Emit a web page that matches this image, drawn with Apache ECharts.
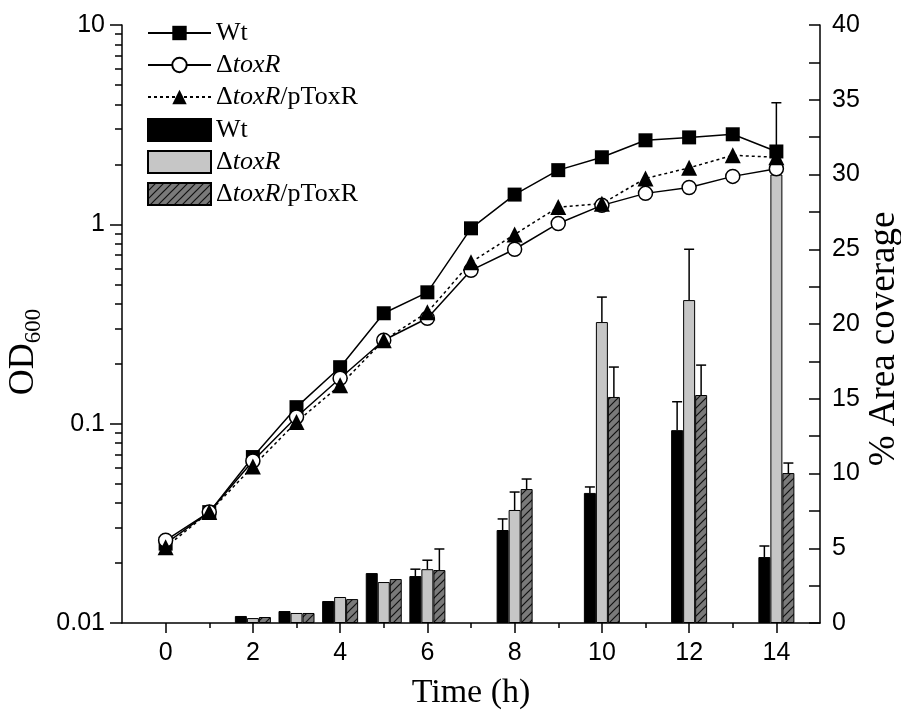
<!DOCTYPE html>
<html>
<head>
<meta charset="utf-8">
<script src="https://cdn.jsdelivr.net/npm/echarts@6/dist/echarts.min.js"></script>
<style>
  html, body { margin: 0; padding: 0; background: #fff; }
  #chart { width: 901px; height: 715px; }
</style>
</head>
<body>
<div id="chart"></div>
<script>
// growth curves, OD600 (log axis), one reading per hour
const hours = [0, 1, 2, 3, 4, 5, 6, 7, 8, 9, 10, 11, 12, 13, 14]
const odWt = [0.025, 0.036, 0.068, 0.121, 0.192, 0.358, 0.456, 0.955, 1.41, 1.87, 2.17, 2.64, 2.73, 2.83, 2.32]
const odToxR = [0.026, 0.036, 0.065, 0.108, 0.169, 0.262, 0.338, 0.588, 0.75, 1.01, 1.245, 1.43, 1.53, 1.74, 1.90]
const odComp = [0.024, 0.036, 0.061, 0.102, 0.156, 0.262, 0.362, 0.645, 0.89, 1.22, 1.27, 1.70, 1.92, 2.22, 2.17]

// biofilm area coverage (%), right axis
const barHours = [2, 3, 4, 5, 6, 8, 10, 12, 14]
const areaWt = [0.47, 0.8, 1.47, 3.34, 3.14, 6.22, 8.70, 12.9, 4.41]
const areaWtErr = [0, 0, 0, 0, 0.46, 0.74, 0.4, 1.9, 0.74]
const areaToxR = [0.33, 0.67, 1.74, 2.74, 3.6, 7.56, 20.13, 21.6, 30.0]
const areaToxRErr = [0, 0, 0, 0, 0.6, 1.2, 1.67, 3.4, 4.8]
const areaComp = [0.4, 0.67, 1.6, 2.94, 3.54, 8.96, 15.12, 15.25, 10.03]
const areaCompErr = [0, 0, 0, 0, 1.41, 0.67, 2.0, 2.0, 0.67]

// axis ticks / labels
const timeCats = ['-1', '0', '1', '2', '3', '4', '5', '6', '7', '8', '9', '10', '11', '12', '13', '14', '15']
const timeLabels = [0, 2, 4, 6, 8, 10, 12, 14]
const timeMinor = [1, 3, 5, 7, 9, 11, 13]
const odMinorTicks = [0.02, 0.03, 0.04, 0.05, 0.06, 0.07, 0.08, 0.09,
  0.2, 0.3, 0.4, 0.5, 0.6, 0.7, 0.8, 0.9, 2, 3, 4, 5, 6, 7, 8, 9]

const sansFont = '"Liberation Sans", Arial, sans-serif'
const serifFont = '"Liberation Serif", "Times New Roman", serif'
const BAR_W = 12

function hatchPattern() {
  const c = document.createElement('canvas')
  c.width = 8
  c.height = 8
  const ctx = c.getContext('2d')
  ctx.fillStyle = '#7a7a7a'
  ctx.fillRect(0, 0, 8, 8)
  ctx.strokeStyle = '#111'
  ctx.lineWidth = 1.2
  ctx.beginPath()
  ctx.moveTo(-1, 9); ctx.lineTo(9, -1)
  ctx.moveTo(-1, 1); ctx.lineTo(1, -1)
  ctx.moveTo(7, 9); ctx.lineTo(9, 7)
  ctx.stroke()
  return c
}

const pairs = (xs, ys) => xs.map((x, i) => [x, ys[i]])
const catPairs = (ys) => barHours.map((h, i) => [String(h), ys[i]])
const errRows = (ys, es) => barHours
  .map((h, i) => [String(h), ys[i], ys[i] + es[i], es[i]])
  .filter(r => r[3] > 0)

function errorRenderer(offset) {
  return (params, api) => {
    const idx = api.value(0)
    const base = api.coord([idx, api.value(1)])
    const top = api.coord([idx, api.value(2)])
    const x = base[0] + offset
    const style = { stroke: '#000', lineWidth: 1.5 }
    return {
      type: 'group',
      children: [
        { type: 'line', shape: { x1: x, y1: base[1], x2: x, y2: top[1] }, style },
        { type: 'line', shape: { x1: x - 5, y1: top[1], x2: x + 5, y2: top[1] }, style }
      ]
    }
  }
}

function legendText(name) {
  const n = name.trim()
  if (n === 'Wt') return '{n|Wt}'
  if (n === 'ΔtoxR') return '{n|Δ}{i|toxR}'
  return '{n|Δ}{i|toxR}{n|/pToxR}'
}
const legendRich = {
  n: { fontFamily: serifFont, fontSize: 26, color: '#000', lineHeight: 26 },
  i: { fontFamily: serifFont, fontSize: 26, fontStyle: 'italic', color: '#000', lineHeight: 26 }
}

const chart = echarts.init(document.getElementById('chart'))
const hatch = hatchPattern()

chart.setOption({
  backgroundColor: '#fff',
  animation: false,
  grid: { left: 122, right: 81, top: 25, bottom: 92, outerBoundsMode: 'none', containLabel: false },
  legend: [
    {
      data: ['Wt', 'ΔtoxR', 'ΔtoxR/pToxR'],
      orient: 'vertical', left: 142, top: 15,
      itemWidth: 63, itemHeight: 18, itemGap: 6,
      formatter: legendText,
      textStyle: { rich: legendRich },
      selectedMode: false
    },
    {
      data: ['Wt ', 'ΔtoxR ', 'ΔtoxR/pToxR '],
      orient: 'vertical', left: 142, top: 112,
      itemWidth: 63, itemHeight: 22, itemGap: 6,
      icon: 'rect',
      formatter: legendText,
      textStyle: { rich: legendRich },
      selectedMode: false
    }
  ],
  xAxis: [
    {
      type: 'value', min: -1, max: 15, interval: 1, position: 'bottom',
      name: 'Time (h)', nameLocation: 'middle', nameGap: 53,
      nameTextStyle: { fontFamily: serifFont, fontSize: 34, color: '#000' },
      axisLine: { onZero: false, lineStyle: { color: '#000', width: 1.5 } },
      axisTick: { customValues: timeLabels, length: 10, lineStyle: { color: '#000', width: 1.5 } },
      axisLabel: { customValues: timeLabels, margin: 18, color: '#000', fontFamily: sansFont, fontSize: 25 },
      splitLine: { show: false }
    },
    {
      type: 'category', data: timeCats, boundaryGap: false, show: false, position: 'bottom'
    },
    {
      type: 'value', min: -1, max: 15, interval: 1, position: 'bottom',
      axisLine: { show: false, onZero: false },
      axisTick: { customValues: timeMinor, length: 5, lineStyle: { color: '#000', width: 1.5 } },
      axisLabel: { show: false },
      splitLine: { show: false }
    }
  ],
  yAxis: [
    {
      type: 'log', logBase: 10, min: 0.01, max: 10, position: 'left',
      name: '{a|OD}{s|600}', nameLocation: 'middle', nameGap: 68, nameRotate: 90,
      nameTextStyle: {
        padding: [0, 56, 0, 0],
        rich: {
          a: { fontFamily: serifFont, fontSize: 36, color: '#000' },
          s: { fontFamily: serifFont, fontSize: 23, color: '#000', padding: [20, 0, 0, 0] }
        }
      },
      axisLine: { show: true, onZero: false, lineStyle: { color: '#000', width: 1.5 } },
      axisTick: { show: true, length: 12, lineStyle: { color: '#000', width: 1.5 } },
      axisLabel: { margin: 17, color: '#000', fontFamily: sansFont, fontSize: 25, formatter: v => String(v) },
      splitLine: { show: false }
    },
    {
      type: 'value', min: 0, max: 40, interval: 5, position: 'right',
      name: '% Area coverage', nameLocation: 'middle', nameGap: 46, nameRotate: 90,
      nameMoveOverlap: false,
      nameTextStyle: { fontFamily: serifFont, fontSize: 37, color: '#000', padding: [0, 30, 0, 0] },
      axisLine: { show: true, onZero: false, lineStyle: { color: '#000', width: 1.5 } },
      axisTick: { show: true, inside: true, length: 11, lineStyle: { color: '#000', width: 1.5 } },
      minorTick: { show: true, splitNumber: 2, length: 11, lineStyle: { color: '#000', width: 1.5 } },
      axisLabel: { margin: 12, color: '#000', fontFamily: sansFont, fontSize: 25 },
      splitLine: { show: false }
    },
    {
      // minor decade ticks for the log axis
      type: 'log', logBase: 10, min: 0.01, max: 10, position: 'left',
      axisLine: { show: false, onZero: false },
      axisTick: { show: true, customValues: odMinorTicks, length: 7, lineStyle: { color: '#000', width: 1.5 } },
      axisLabel: { show: false },
      splitLine: { show: false }
    }
  ],
  series: [
    {
      name: 'Wt ', type: 'bar', xAxisIndex: 1, yAxisIndex: 1,
      barWidth: BAR_W, barGap: '0%', z: 2,
      itemStyle: { color: '#000', borderColor: '#000', borderWidth: 1 },
      data: catPairs(areaWt)
    },
    {
      name: 'ΔtoxR ', type: 'bar', xAxisIndex: 1, yAxisIndex: 1,
      barWidth: BAR_W, barGap: '0%', z: 2,
      itemStyle: { color: '#c6c6c6', borderColor: '#000', borderWidth: 1 },
      data: catPairs(areaToxR)
    },
    {
      name: 'ΔtoxR/pToxR ', type: 'bar', xAxisIndex: 1, yAxisIndex: 1,
      barWidth: BAR_W, barGap: '0%', z: 2,
      itemStyle: { color: { image: hatch, repeat: 'repeat' }, borderColor: '#000', borderWidth: 1 },
      data: catPairs(areaComp)
    },
    {
      name: 'errWt', type: 'custom', xAxisIndex: 1, yAxisIndex: 1, z: 3,
      renderItem: errorRenderer(-BAR_W), data: errRows(areaWt, areaWtErr)
    },
    {
      name: 'errToxR', type: 'custom', xAxisIndex: 1, yAxisIndex: 1, z: 3,
      renderItem: errorRenderer(0), data: errRows(areaToxR, areaToxRErr)
    },
    {
      name: 'errComp', type: 'custom', xAxisIndex: 1, yAxisIndex: 1, z: 3,
      renderItem: errorRenderer(BAR_W), data: errRows(areaComp, areaCompErr)
    },
    {
      name: 'Wt', type: 'line', xAxisIndex: 0, yAxisIndex: 0, z: 5,
      symbol: 'rect', symbolSize: 14,
      lineStyle: { color: '#000', width: 1.5 },
      itemStyle: { color: '#000' },
      data: pairs(hours, odWt)
    },
    {
      name: 'ΔtoxR', type: 'line', xAxisIndex: 0, yAxisIndex: 0, z: 5,
      symbol: 'circle', symbolSize: 14,
      lineStyle: { color: '#000', width: 1.5 },
      itemStyle: { color: '#fff', borderColor: '#000', borderWidth: 1.5 },
      data: pairs(hours, odToxR)
    },
    {
      name: 'ΔtoxR/pToxR', type: 'line', xAxisIndex: 0, yAxisIndex: 0, z: 5,
      symbol: 'triangle', symbolSize: 16,
      lineStyle: { color: '#000', width: 1.5, type: [3, 3] },
      itemStyle: { color: '#000' },
      data: pairs(hours, odComp)
    }
  ]
})
</script>
</body>
</html>
